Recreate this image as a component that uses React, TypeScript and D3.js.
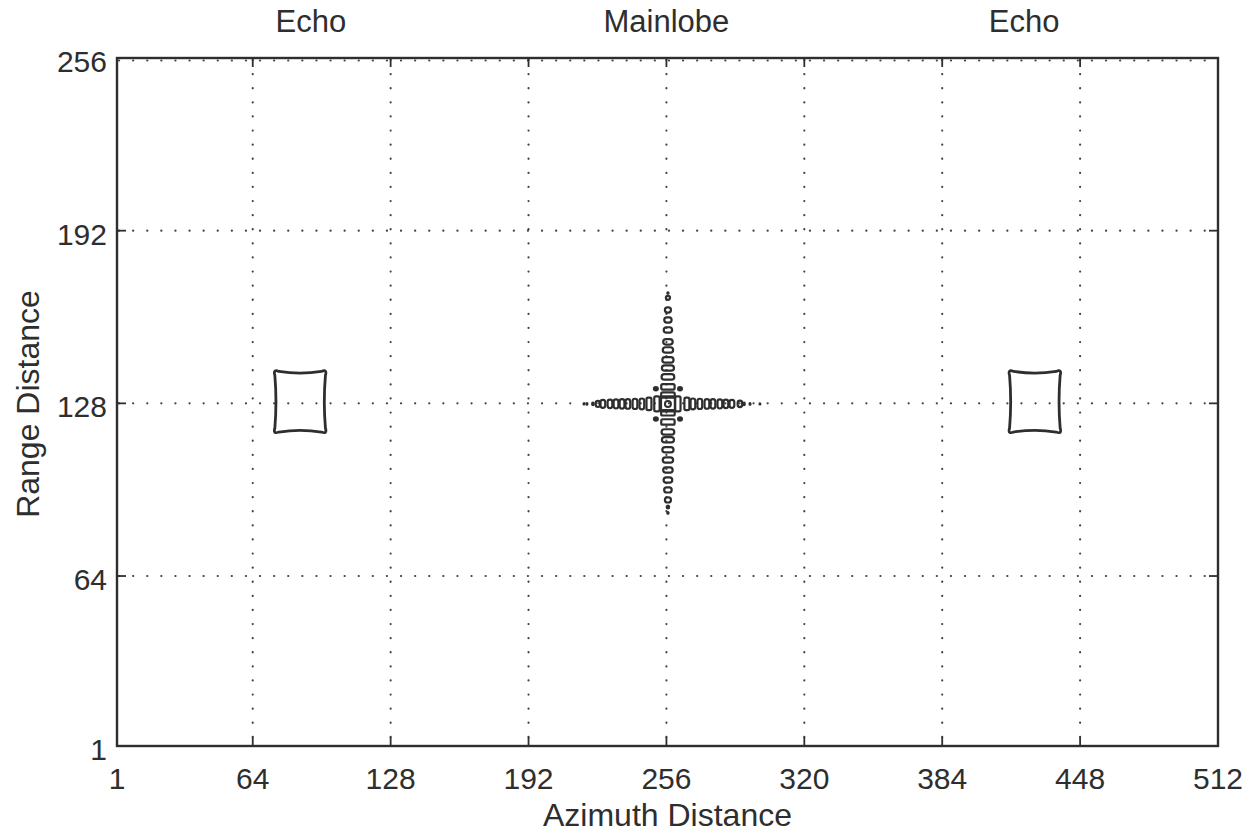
import React from "react";
import * as d3 from "d3";

// Axis ticks (samples)
const azimuthTicks = [1, 64, 128, 192, 256, 320, 384, 448, 512];
const rangeTicks = [1, 64, 128, 192, 256];

// Column headers and their azimuth positions
const headerLabels = ["Echo", "Mainlobe", "Echo"];
const headerAzimuth = [91, 256, 422];

// Target (mainlobe) position
const targetAzimuth = 256.7;
const targetRange = 127.8;

// Azimuth sidelobes: offset from the peak, contour width (azimuth samples), contour height (range samples)
const azimuthLobeOffsets = [-39.0, -37.6, -34.8, -32.5, -30.2, -26.9, -24.1, -21.3, -18.6, -15.3, -12.1, -8.8, -5.1,
  4.6, 8.8, 11.6, 14.8, 18.1, 20.9, 24.1, 26.9, 29.7, 33.4, 35.3, 38.1, 42.7];
const azimuthLobeWidths = [0.9, 1.0, 1.3, 2.0, 2.2, 2.2, 2.2, 2.2, 2.2, 2.2, 2.2, 2.3, 2.5,
  2.5, 2.3, 2.2, 2.2, 2.2, 2.2, 2.2, 2.2, 2.2, 2.1, 1.3, 1.0, 0.9];
const azimuthLobeHeights = [0.9, 1.0, 1.4, 2.3, 3.0, 3.2, 3.4, 3.5, 3.6, 3.8, 4.0, 4.6, 5.5,
  5.5, 4.6, 4.0, 3.8, 3.6, 3.5, 3.4, 3.2, 3.0, 2.4, 1.4, 1.0, 0.9];

// Range sidelobes: offset from the peak, contour width (azimuth samples), contour height (range samples)
const rangeLobeOffsets = [41.1, 39.3, 34.8, 31.1, 27.4, 23.0, 20.0, 16.3, 13.3, 10.0, 6.3, 3.3,
  -3.3, -6.7, -10.4, -13.3, -17.0, -20.8, -24.5, -28.2, -31.9, -35.6, -38.2, -40.4];
const rangeLobeWidths = [1.1, 1.9, 2.8, 3.4, 3.9, 4.4, 4.8, 5.2, 5.6, 5.9, 6.2, 6.3,
  6.3, 6.2, 5.9, 5.6, 5.2, 4.8, 4.4, 4.0, 3.5, 2.8, 1.7, 1.1];
const rangeLobeHeights = [1.0, 1.5, 1.9, 1.9, 2.0, 2.0, 2.0, 2.0, 2.0, 2.0, 2.0, 2.0,
  2.0, 2.0, 2.0, 2.0, 2.0, 2.0, 2.0, 2.0, 1.9, 1.9, 1.5, 1.0];

// Diagonal lobes around the peak (azimuth offset, range offset)
const diagonalAzimuth = [-5.6, 5.6, -5.6, 5.6];
const diagonalRange = [5.6, 5.6, -5.6, -5.6];

// Echo contours
const echoAzimuth = [86, 427];
const echoRange = 128.6;
const echoHalfWidth = 12.2;
const echoHalfHeight = 11.6;

const W = 1250;
const H = 832;
const ink = "#2e2e2e";
const font = "'Liberation Sans', Arial, Helvetica, sans-serif";

export default function App() {
  const x = d3.scaleLinear().domain([1, 512]).range([117, 1218]);
  const y = d3.scaleLinear().domain([1, 256]).range([746, 58]);
  const [x0, x1] = x.range();
  const [y0, y1] = y.range();

  const lobe = (az: number, rg: number, w: number, h: number, key: string) => {
    const pw = Math.abs(x(az + w / 2) - x(az - w / 2));
    const ph = Math.abs(y(rg + h / 2) - y(rg - h / 2));
    const cx = x(az);
    const cy = y(rg);
    if (pw < 4 || ph < 4) {
      return <ellipse key={key} cx={cx} cy={cy} rx={Math.max(pw / 2 + 0.5, 1.1)} ry={Math.max(ph / 2 + 0.5, 1.1)} fill={ink} />;
    }
    const r = Math.min(pw, ph) / 2;
    const elongated = Math.max(pw, ph) / Math.min(pw, ph) > 2.4;
    return (
      <rect key={key} x={cx - pw / 2} y={cy - ph / 2} width={pw} height={ph}
        rx={elongated ? 1.5 : r} ry={elongated ? 1.5 : r}
        fill="none" stroke={ink} strokeWidth={2.2} />
    );
  };

  const echoPath = (c: number) => {
    const L = x(c - echoHalfWidth), R = x(c + echoHalfWidth);
    const T = y(echoRange + echoHalfHeight), B = y(echoRange - echoHalfHeight);
    const r = 5, b = 1.6;
    const mx = (L + R) / 2, my = (T + B) / 2;
    return [
      `M${L + r},${T + 1}`,
      `Q${mx},${T + 2 * b + 1} ${R - r},${T + 1}`,
      `Q${R + 1},${T - 1.5} ${R - 1},${T + r}`,
      `Q${R - 2 * b},${my} ${R - 1},${B - r}`,
      `Q${R + 1},${B + 1.5} ${R - r},${B - 1}`,
      `Q${mx},${B - 2 * b - 1} ${L + r},${B - 1}`,
      `Q${L - 1},${B + 1.5} ${L + 1},${B - r}`,
      `Q${L + 2 * b},${my} ${L + 1},${T + r}`,
      `Q${L - 1},${T - 1.5} ${L + r},${T + 1}Z`,
    ].join(" ");
  };

  const cx = x(targetAzimuth);
  const cy = y(targetRange);

  return (
    <svg width={W} height={H} style={{ position: "absolute", left: 0, top: 0, background: "#fff" }}
      fontFamily={font}>
      <rect width={W} height={H} fill="#fff" />

      {/* dotted grid */}
      <g stroke="#444" strokeWidth={2.2} strokeLinecap="round" strokeDasharray="0.1 14">
        {azimuthTicks.filter((t) => t > 1 && t < 512).map((t) => (
          <line key={`gx${t}`} x1={x(t)} x2={x(t)} y1={y1 + 2} y2={y0} />
        ))}
        {rangeTicks.filter((t) => t > 1).map((t) => (
          <line key={`gy${t}`} x1={x0 + 2} x2={x1} y1={t === 256 ? y(t) + 2.5 : y(t)} y2={t === 256 ? y(t) + 2.5 : y(t)} />
        ))}
      </g>

      {/* tick marks on all four sides */}
      <g stroke={ink} strokeWidth={1.8}>
        {azimuthTicks.map((t) => (
          <g key={`tx${t}`}>
            <line x1={x(t)} x2={x(t)} y1={y0} y2={y0 - 9} />
            <line x1={x(t)} x2={x(t)} y1={y1} y2={y1 + 9} />
          </g>
        ))}
        {rangeTicks.map((t) => (
          <g key={`ty${t}`}>
            <line x1={x0} x2={x0 + 9} y1={y(t)} y2={y(t)} />
            <line x1={x1} x2={x1 - 9} y1={y(t)} y2={y(t)} />
          </g>
        ))}
      </g>

      {/* plot frame */}
      <rect x={x0} y={y1} width={x1 - x0} height={y0 - y1} fill="none" stroke={ink} strokeWidth={2.4} />

      {/* echo contours */}
      {echoAzimuth.map((c) => (
        <path key={`echo${c}`} d={echoPath(c)} fill="none" stroke={ink} strokeWidth={2.8} strokeLinejoin="round" />
      ))}

      {/* mainlobe and sidelobe contours */}
      <g>
        {azimuthLobeOffsets.map((o, i) =>
          lobe(targetAzimuth + o, targetRange, azimuthLobeWidths[i], azimuthLobeHeights[i], `az${i}`))}
        {rangeLobeOffsets.map((o, i) =>
          lobe(targetAzimuth, targetRange + o, rangeLobeWidths[i], rangeLobeHeights[i], `rg${i}`))}
        {diagonalAzimuth.map((o, i) => (
          <ellipse key={`dg${i}`} cx={x(targetAzimuth + o)} cy={y(targetRange + diagonalRange[i])} rx={3} ry={2.7} fill={ink} />
        ))}
        <rect x={cx - 7} y={cy - 7.5} width={14} height={15} rx={2} fill="none" stroke={ink} strokeWidth={2.3} />
        <circle cx={cx} cy={cy} r={3} fill="none" stroke={ink} strokeWidth={2} />
      </g>

      {/* tick labels */}
      <g fill={ink} fontSize={30}>
        {azimuthTicks.map((t) => (
          <text key={`lx${t}`} x={x(t)} y={y0 + 43} textAnchor="middle">{t}</text>
        ))}
        {rangeTicks.map((t) => (
          <text key={`ly${t}`} x={x0 - 10} y={y(t) + 14} textAnchor="end">{t}</text>
        ))}
      </g>

      {/* headers */}
      <g fill={ink} fontSize={31}>
        {headerLabels.map((s, i) => (
          <text key={`h${i}`} x={x(headerAzimuth[i])} y={32} textAnchor="middle">{s}</text>
        ))}
      </g>

      {/* axis titles */}
      <text x={(x0 + x1) / 2} y={826} textAnchor="middle" fill={ink} fontSize={32}>Azimuth Distance</text>
      <text transform={`translate(39,${(y0 + y1) / 2 + 2}) rotate(-90)`} textAnchor="middle" fill={ink} fontSize={32}>
        Range Distance
      </text>
    </svg>
  );
}
